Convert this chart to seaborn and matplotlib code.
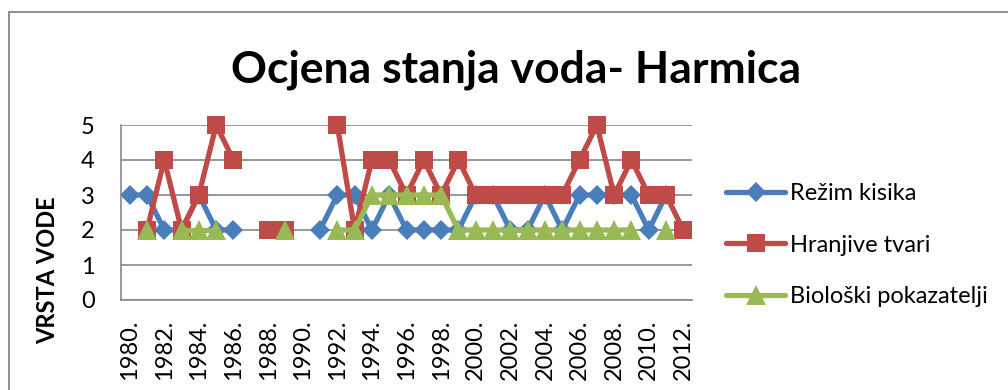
import numpy as np
import pandas as pd
import matplotlib
matplotlib.use("Agg")
import matplotlib.pyplot as plt
from matplotlib.lines import Line2D
from matplotlib.patches import Rectangle
import seaborn as sns

# Yearly water quality class per indicator (gaps = no measurement)
years = list(range(1980, 2013))
nan = np.nan
rezim_kisika = [3, 3, 2, 2, 3, 2, 2, nan, nan, nan, nan, 2, 3, 3, 2, 3, 2, 2, 2, 2,
                3, 3, 2, 2, 3, 2, 3, 3, 3, 3, 2, 3, nan]
hranjive_tvari = [nan, 2, 4, 2, 3, 5, 4, nan, 2, 2, nan, nan, 5, 2, 4, 4, 3, 4, 3, 4,
                  3, 3, 3, 3, 3, 3, 4, 5, 3, 4, 3, 3, 2]
bioloski_pokazatelji = [nan, 2, nan, 2, 2, 2, nan, nan, nan, 2, nan, nan, 2, 2, 3, 3, 3, 3, 3, 2,
                        2, 2, 2, 2, 2, 2, 2, 2, 2, 2, nan, 2, nan]

series_names = ["Režim kisika", "Hranjive tvari", "Biološki pokazatelji"]
series_values = [rezim_kisika, hranjive_tvari, bioloski_pokazatelji]
tick_years = [f"{y}." for y in years[::2]]
y_ticks = [0, 1, 2, 3, 4, 5]

colors = ["#4A7EBB", "#BE4B48", "#98B954"]
markers = ["D", "s", "^"]
marker_sizes = {"D": 10.5, "s": 13.5, "^": 15.0}

# Long table; each unbroken run of measurements gets its own unit id
rows = []
for name, vals in zip(series_names, series_values):
    run = 0
    for i, v in enumerate(vals):
        if np.isnan(v):
            run += 1
            continue
        rows.append({"pos": i, "value": v, "series": name, "run": f"{name}-{run}"})
df = pd.DataFrame(rows)

sns.set_theme(style="white")
plt.rcParams["font.family"] = ["Lato", "DejaVu Sans"]
plt.rcParams["text.color"] = "black"

W, H = 1008, 390
fig = plt.figure(figsize=(W / 100, H / 100), dpi=100)
fig.patch.set_facecolor("white")

# outer chart frame
fig.patches.append(Rectangle((9 / W, -0.1), 1.2, 1.1 - 12 / H, transform=fig.transFigure,
                             fill=False, edgecolor="#868686", linewidth=1.3))

ax = fig.add_axes([121 / W, 1 - 300 / H, (692 - 121) / W, 175 / H])

sns.lineplot(data=df, x="pos", y="value", hue="series", style="series", units="run",
             estimator=None, sort=False, hue_order=series_names, style_order=series_names,
             palette=colors, markers=markers, dashes=False, linewidth=3.8,
             markeredgewidth=0, legend=False, clip_on=False, ax=ax)
for line in ax.lines:
    line.set_markersize(marker_sizes.get(line.get_marker(), 10))

ax.set_xlim(-0.5, len(years) - 0.5)
ax.set_ylim(0, 5)
ax.set_xticks(range(0, len(years), 2))
ax.set_xticklabels(tick_years, rotation=90)
ax.set_yticks(y_ticks)
ax.set_yticklabels([str(t) for t in y_ticks])
ax.tick_params(axis="both", length=0, labelsize=17, colors="black")
ax.tick_params(axis="x", pad=14)
ax.tick_params(axis="y", pad=19)
ax.set_xlabel("")
ax.set_ylabel("")
ax.yaxis.grid(True, color="#868686", linewidth=1.2)
ax.xaxis.grid(False)
for side in ["top", "right"]:
    ax.spines[side].set_visible(False)
for side in ["left", "bottom"]:
    ax.spines[side].set_color("#868686")
    ax.spines[side].set_linewidth(1.2)

fig.text(48 / W, 1 - 270 / H, "VRSTA VODE", rotation=90, ha="center", va="center",
         fontsize=17, fontweight="bold")
fig.text(516 / W, 1 - 82 / H, "Ocjena stanja voda- Harmica", ha="center", va="baseline",
         fontsize=32, fontweight="bold")

handles = [Line2D([], [], color=c, marker=m, linewidth=3.8, markersize=marker_sizes[m],
                  markeredgewidth=0) for c, m in zip(colors, markers)]
fig.legend(handles, series_names, loc="center left", bbox_to_anchor=(726 / W, 1 - 245 / H),
           frameon=False, fontsize=17, handlelength=2.5, handletextpad=0.2,
           labelspacing=1.3, borderpad=0, borderaxespad=0)

fig.savefig("out.png", dpi=100, facecolor="white")
